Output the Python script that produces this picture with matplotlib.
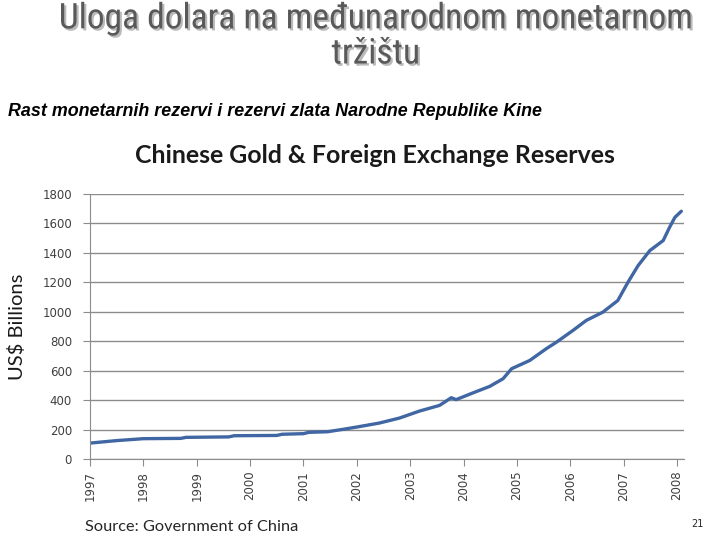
import matplotlib
matplotlib.use('Agg')
import matplotlib.pyplot as plt
import matplotlib.patheffects as pe
from matplotlib import font_manager

# procitano sa slike (godina, mlrd USD)
godine = [1997.0, 1997.5, 1998.0, 1998.7, 1998.8, 1999.6, 1999.7, 2000.5, 2000.6,
          2001.0, 2001.1, 2001.45, 2001.75, 2002.0, 2002.42, 2002.8, 2003.17, 2003.55,
          2003.77, 2003.86, 2004.17, 2004.49, 2004.74, 2004.9, 2005.24, 2005.55,
          2005.74, 2006.05, 2006.3, 2006.61, 2006.89, 2007.08, 2007.27, 2007.49,
          2007.74, 2007.86, 2007.96, 2008.08]
rezerve = [108, 125, 138, 140, 147, 150, 158, 160, 168,
           172, 181, 185, 202, 217, 244, 278, 325, 364,
           416, 403, 448, 493, 545, 613, 669, 749,
           793, 873, 941, 997, 1076, 1200, 1313, 1415,
           1483, 1573, 1641, 1682]
oznake_x = list(range(1997, 2009))
oznake_y = list(range(0, 1801, 200))

# uzi font za naslov, ako postoji
imena = {f.name for f in font_manager.fontManager.ttflist}
naslov_font = 'Roboto'
for kand in ['DejaVu Sans Condensed', 'Liberation Sans Narrow', 'Roboto Condensed']:
    if kand in imena:
        naslov_font = kand
        break

fig = plt.figure(figsize=(7.2, 5.4), dpi=100)

# naslov stranice
senka = [pe.withSimplePatchShadow(offset=(1.5, -1.5), alpha=0.3)]
fig.text(0.522, 0.966, 'Uloga dolara na međunarodnom monetarnom', ha='center', va='center',
         fontsize=25.5, color='#595959', family=[naslov_font, 'DejaVu Sans'], path_effects=senka)
fig.text(0.522, 0.9, 'tržištu', ha='center', va='center',
         fontsize=25.5, color='#595959', family=[naslov_font, 'DejaVu Sans'], path_effects=senka)
fig.text(0.011, 0.793, 'Rast monetarnih rezervi i rezervi zlata Narodne Republike Kine',
         ha='left', va='center', fontsize=12.9, fontweight='bold', style='italic',
         family='Liberation Sans')

ax = fig.add_axes([0.125, 0.15, 0.825, 0.491])
ax.plot(godine, rezerve, color='#4067a3', linewidth=2.4, solid_capstyle='round')

ax.set_xlim(1997, 2008.13)
ax.set_ylim(0, 1800)
ax.set_yticks(oznake_y)
ax.set_xticks(oznake_x)
ax.set_xticklabels([str(g) for g in oznake_x], rotation=90)
ax.yaxis.grid(True, color='#8c8c8c', linewidth=1)
ax.set_axisbelow(True)
for s in ['top', 'right']:
    ax.spines[s].set_visible(False)
ax.spines['left'].set_color('#8c8c8c')
ax.spines['bottom'].set_color('#8c8c8c')
ax.tick_params(axis='both', colors='#8c8c8c', labelcolor='#404040', labelsize=8.5, length=5)
ax.tick_params(axis='y', pad=8)

ax.set_title('Chinese Gold & Foreign Exchange Reserves', fontsize=17.9, fontweight='bold',
             family='Lato', color='#1a1a1a', pad=22, x=0.48)
ax.set_ylabel('US$ Billions', fontsize=14.5, family='Lato', color='#1a1a1a', labelpad=12)

fig.text(0.118, 0.024, 'Source: Government of China', fontsize=11.8, family='Lato',
         color='#262626', ha='left', va='center')
fig.text(0.968, 0.03, '21', fontsize=7, ha='center', va='center', color='#262626')

fig.savefig('out.png', dpi=100)
